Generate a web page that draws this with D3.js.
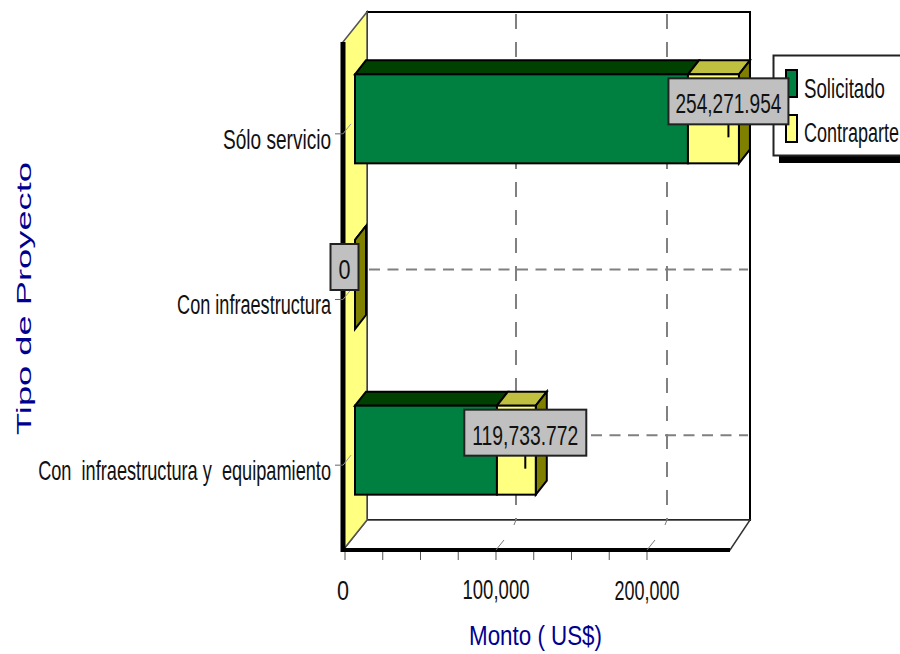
<!DOCTYPE html>
<html>
<head>
<meta charset="utf-8">
<script src="https://cdn.jsdelivr.net/npm/d3@7/dist/d3.min.js"></script>
<style>
html,body{margin:0;padding:0;background:#fff;overflow:hidden}
text{font-family:"Liberation Sans",Arial,sans-serif}
</style>
</head>
<body>
<svg id="chart" width="900" height="654"></svg>
<script>
// Project types and requested / counterpart amounts (thousands of US$)
const categories = ["Sólo servicio", "Con infraestructura", "Con  infraestructura y  equipamiento"];
const solicitado = [220500, 0, 94000];
const contraparte = [33771.954, 0, 25733.772];
const valueLabels = ["254,271.954", "0", "119,733.772"];
const seriesNames = ["Solicitado", "Contraparte"];
const majorTicks = [0, 100000, 200000];
const tickLabels = ["0", "100,000", "200,000"];
const minorTicks = [25000, 50000, 75000, 125000, 150000, 175000];

// Widths of the condensed labels
const categoryWidths = [108, 154, 293];
const tickWidths = [12, 67, 65];
const legendWidths = [81, 95];

const svg = d3.select("#chart");
const ink = "#000";
const gridGray = "#808080";
const green = "#008040", greenTop = "#004000";
const yellow = "#ffff80", yellowTop = "#c0c040", olive = "#808000";

const x = d3.scaleLinear().domain([0, 256300]).range([343, 730]);
const y = d3.scaleBand().domain(categories).range([51, 548]);
const depth = {dx: 24, dy: -30};     // floor depth of the 3D box
const barFront = {dx: 12, dy: -15};  // bar front face sits mid-depth
const barDepth = {dx: 11, dy: -14};
const barHeight = 89;
const floorY = 550, wallTop = 42;
const cy = c => y(c) + y.bandwidth() / 2;

const pts = a => a.map(p => p.join(",")).join(" ");
const poly = (g, p, fill, sw = 2, stroke = ink) =>
  g.append("polygon").attr("points", pts(p)).attr("fill", fill)
    .attr("stroke", stroke).attr("stroke-width", sw).attr("stroke-linejoin", "miter");
const line = (g, a, b, stroke, sw, dash) =>
  g.append("line").attr("x1", a[0]).attr("y1", a[1]).attr("x2", b[0]).attr("y2", b[1])
    .attr("stroke", stroke).attr("stroke-width", sw).attr("stroke-dasharray", dash || null);

// Condensed text: a horizontal scale squeezes each run into a fixed length
function label(g, str, px, py, width, size, anchor, fill = "#111", rotate = 0) {
  const t = g.append("text").attr("font-size", size).attr("fill", fill)
    .attr("text-anchor", anchor).attr("dominant-baseline", "central")
    .style("white-space", "pre").text(str);
  const sx = width / t.node().getComputedTextLength();
  t.attr("transform", `translate(${px},${py}) rotate(${rotate}) scale(${sx},1)`);
  return t;
}

// Box: back wall, floor, left wall
const box = svg.append("g");
const xL = x(0), xR = x.range()[1];
const backR = xR + 20;
poly(box, [[xL + depth.dx, wallTop + depth.dy], [backR, wallTop + depth.dy], [backR, floorY + depth.dy], [xL + depth.dx, floorY + depth.dy]], "#fff");
poly(box, [[xL, floorY], [xL + depth.dx, floorY + depth.dy], [backR, floorY + depth.dy], [xR, floorY]], "#fff", 1.5, "#333");

// Dashed gridlines on the back wall
const grid = svg.append("g");
majorTicks.slice(1).forEach(v => {
  const gx = x(v) + 22;
  line(grid, [gx, wallTop + depth.dy + 2], [gx, floorY + depth.dy], gridGray, 2, "15 13");
});
categories.forEach(c => {
  const gy = cy(c) + depth.dy;
  line(grid, [xL + depth.dx + 2, gy], [backR - 2, gy], gridGray, 2, "11 7.5");
});

// Floor ticks running along the depth
majorTicks.slice(1).forEach(v => {
  line(grid, [x(v) + 2, floorY], [x(v) + 10, floorY - 10], "#777", 1);
  line(grid, [x(v) + 22, floorY + depth.dy], [x(v) + 20, floorY + depth.dy + 5], "#777", 1);
});

poly(box, [[xL, wallTop], [xL + depth.dx, wallTop + depth.dy], [xL + depth.dx, floorY + depth.dy], [xL, floorY]], yellow, 1.5, "#555");

// Thick front edges of the box
line(box, [xL, wallTop], [xL, floorY + 2], ink, 5);
line(box, [xL - 2, floorY], [xR, floorY], ink, 4);

// Category ticks with their slanted continuation on the wall
categories.forEach(c => {
  line(svg, [xL - 8, cy(c)], [xL, cy(c)], "#666", 1);
  line(svg, [xL, cy(c)], [xL + 8, cy(c) - 10], "#999", 1);
});

// Stacked 3D bars
const bars = svg.append("g");
categories.forEach((c, i) => {
  const top = cy(c) + barFront.dy - barHeight / 2, bottom = top + barHeight;
  const x0 = x(0) + barFront.dx;
  const x1 = x(solicitado[i]) + barFront.dx;
  const x2 = x(solicitado[i] + contraparte[i]) + barFront.dx;
  const d = barDepth;
  poly(bars, [[x0, top], [x0 + d.dx, top + d.dy], [x1 + d.dx, top + d.dy], [x1, top]], greenTop);
  poly(bars, [[x1, top], [x1 + d.dx, top + d.dy], [x2 + d.dx, top + d.dy], [x2, top]], yellowTop);
  poly(bars, [[x2, top], [x2 + d.dx, top + d.dy], [x2 + d.dx, bottom + d.dy], [x2, bottom]], olive);
  if (x2 > x0) {
    bars.append("rect").attr("x", x0).attr("y", top).attr("width", x1 - x0).attr("height", barHeight)
      .attr("fill", green).attr("stroke", ink).attr("stroke-width", 2);
    bars.append("rect").attr("x", x1).attr("y", top).attr("width", x2 - x1).attr("height", barHeight)
      .attr("fill", yellow).attr("stroke", ink).attr("stroke-width", 2);
  }
});

// Value axis
const axis = svg.append("g");
majorTicks.concat(minorTicks).forEach(v => {
  line(axis, [x(v) + 2, floorY + 2], [x(v) + 2, floorY + 10], "#555", 1);
});
majorTicks.forEach((v, i) => {
  label(axis, tickLabels[i], x(v) + (i ? 2 : 0), 590, tickWidths[i], 28, "middle");
});
categories.forEach((c, i) => {
  label(axis, c, 331, cy(c) + 5, categoryWidths[i], 28, "end");
});

// Axis titles
label(svg, "Monto ( US$)", 535.5, 635, 133, 28, "middle", "#000090");
label(svg, "Tipo de Proyecto", 24, 298.5, 273, 20, "middle", "#000090", -90);

// Legend, running past the right edge
const legend = svg.append("g");
legend.append("rect").attr("x", 779).attr("y", 62).attr("width", 140).attr("height", 101).attr("fill", ink);
legend.append("rect").attr("x", 773.5).attr("y", 55.5).attr("width", 140).attr("height", 100)
  .attr("fill", "#fff").attr("stroke", "#222").attr("stroke-width", 2);
[green, yellow].forEach((col, i) => {
  legend.append("rect").attr("x", 786).attr("y", 70 + i * 45).attr("width", 11).attr("height", 27)
    .attr("fill", col).attr("stroke", ink).attr("stroke-width", 2);
  label(legend, seriesNames[i], 804, 88 + i * 44, legendWidths[i], 28, "start");
});

// Value callouts over the end of each stack
const callouts = svg.append("g");
const boxWidths = [120, 28, 122];
const textWidths = [106, 12, 106];
categories.forEach((c, i) => {
  const end = x(solicitado[i] + contraparte[i]) + barFront.dx;
  const lx = end - 10.5, ly = cy(c) + barFront.dy - 17.5;
  if (solicitado[i] + contraparte[i] > 0) line(callouts, [lx, ly + 23], [lx, ly + 36], ink, 2);
  callouts.append("rect").attr("x", lx - boxWidths[i] / 2).attr("y", ly - 23)
    .attr("width", boxWidths[i]).attr("height", 46)
    .attr("fill", "#c0c0c0").attr("stroke", "#222").attr("stroke-width", 2);
  label(callouts, valueLabels[i], lx, ly + 2, textWidths[i], 28, "middle");
});
</script>
</body>
</html>
